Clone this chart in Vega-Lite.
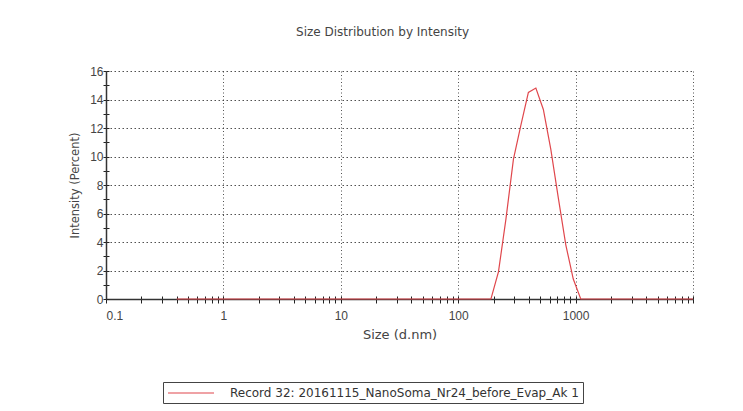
{
  "$schema": "https://vega.github.io/schema/vega-lite/v6.json",
  "autosize": {"type": "none"},
  "width": 587,
  "height": 228,
  "padding": {"left": 106, "top": 71, "right": 50, "bottom": 112},
  "background": "white",
  "title": {
    "text": "Size Distribution by Intensity",
    "font": "DejaVu Sans",
    "fontSize": 12,
    "fontWeight": "normal",
    "color": "#444",
    "anchor": "middle",
    "frame": "bounds",
    "offset": 26
  },
  "data": {
    "values": [
      {"size": 0.4, "intensity": 0}, {"size": 0.4632, "intensity": 0}, {"size": 0.5365, "intensity": 0},
      {"size": 0.6213, "intensity": 0}, {"size": 0.7195, "intensity": 0}, {"size": 0.8332, "intensity": 0},
      {"size": 0.9649, "intensity": 0}, {"size": 1.117, "intensity": 0}, {"size": 1.294, "intensity": 0},
      {"size": 1.499, "intensity": 0}, {"size": 1.736, "intensity": 0}, {"size": 2.01, "intensity": 0},
      {"size": 2.328, "intensity": 0}, {"size": 2.696, "intensity": 0}, {"size": 3.122, "intensity": 0},
      {"size": 3.615, "intensity": 0}, {"size": 4.187, "intensity": 0}, {"size": 4.849, "intensity": 0},
      {"size": 5.615, "intensity": 0}, {"size": 6.503, "intensity": 0}, {"size": 7.531, "intensity": 0},
      {"size": 8.721, "intensity": 0}, {"size": 10.1, "intensity": 0}, {"size": 11.7, "intensity": 0},
      {"size": 13.54, "intensity": 0}, {"size": 15.69, "intensity": 0}, {"size": 18.17, "intensity": 0},
      {"size": 21.04, "intensity": 0}, {"size": 24.36, "intensity": 0}, {"size": 28.21, "intensity": 0},
      {"size": 32.67, "intensity": 0}, {"size": 37.84, "intensity": 0}, {"size": 43.82, "intensity": 0},
      {"size": 50.75, "intensity": 0}, {"size": 58.77, "intensity": 0}, {"size": 68.06, "intensity": 0},
      {"size": 78.82, "intensity": 0}, {"size": 91.28, "intensity": 0}, {"size": 105.7, "intensity": 0},
      {"size": 122.4, "intensity": 0}, {"size": 141.8, "intensity": 0}, {"size": 164.2, "intensity": 0},
      {"size": 190.1, "intensity": 0}, {"size": 220.2, "intensity": 1.9}, {"size": 255, "intensity": 5.6},
      {"size": 295.3, "intensity": 9.8}, {"size": 342, "intensity": 12.2}, {"size": 396.1, "intensity": 14.5},
      {"size": 458.7, "intensity": 14.8}, {"size": 531.2, "intensity": 13.3}, {"size": 615.1, "intensity": 10.5},
      {"size": 712.4, "intensity": 7.1}, {"size": 825, "intensity": 3.8}, {"size": 955.4, "intensity": 1.4},
      {"size": 1106, "intensity": 0}, {"size": 1281, "intensity": 0}, {"size": 1484, "intensity": 0},
      {"size": 1718, "intensity": 0}, {"size": 1990, "intensity": 0}, {"size": 2305, "intensity": 0},
      {"size": 2669, "intensity": 0}, {"size": 3091, "intensity": 0}, {"size": 3580, "intensity": 0},
      {"size": 4145, "intensity": 0}, {"size": 4801, "intensity": 0}, {"size": 5560, "intensity": 0},
      {"size": 6439, "intensity": 0}, {"size": 7456, "intensity": 0}, {"size": 8635, "intensity": 0},
      {"size": 10000, "intensity": 0}
    ]
  },
  "transform": [
    {"calculate": "'Record 32: 20161115_NanoSoma_Nr24_before_Evap_Ak 1'", "as": "record"}
  ],
  "layer": [
    {
      "mark": {"type": "line", "opacity": 0},
      "encoding": {
        "x": {
          "field": "size",
          "type": "quantitative",
          "scale": {"type": "log", "domain": [0.1, 10000], "nice": false},
          "axis": {
            "orient": "bottom",
            "title": null,
            "labels": false,
            "domain": false,
            "grid": false,
            "values": [0.1, 0.2, 0.3, 0.4, 0.5, 0.6, 0.7, 0.8, 0.9,
                       1, 2, 3, 4, 5, 6, 7, 8, 9,
                       10, 20, 30, 40, 50, 60, 70, 80, 90,
                       100, 200, 300, 400, 500, 600, 700, 800, 900,
                       1000, 2000, 3000, 4000, 5000, 6000, 7000, 8000, 9000, 10000],
            "tickSize": -3,
            "tickColor": "#222"
          }
        },
        "y": {
          "field": "intensity",
          "type": "quantitative",
          "scale": {"domain": [0, 16], "nice": false},
          "axis": {
            "orient": "left",
            "title": null,
            "labels": false,
            "domain": false,
            "grid": false,
            "values": [0, 1, 2, 3, 4, 5, 6, 7, 8, 9, 10, 11, 12, 13, 14, 15, 16],
            "tickSize": -3,
            "tickColor": "#222"
          }
        }
      }
    },
    {
      "mark": {"type": "line", "strokeWidth": 1.2, "clip": false},
      "encoding": {
        "x": {
          "field": "size",
          "type": "quantitative",
          "scale": {"type": "log", "domain": [0.1, 10000], "nice": false},
          "axis": {
            "orient": "bottom",
            "title": "Size (d.nm)",
            "values": [0.1, 0.2, 0.3, 0.4, 0.5, 0.6, 0.7, 0.8, 0.9,
                       1, 2, 3, 4, 5, 6, 7, 8, 9,
                       10, 20, 30, 40, 50, 60, 70, 80, 90,
                       100, 200, 300, 400, 500, 600, 700, 800, 900,
                       1000, 2000, 3000, 4000, 5000, 6000, 7000, 8000, 9000, 10000],
            "format": "~g",
            "labelExpr": "indexof([0.1, 1, 10, 100, 1000], datum.value) >= 0 ? datum.label : ''",
            "labelOverlap": false,
            "labelFont": "Liberation Sans",
            "labelFontSize": 12,
            "labelColor": "#444",
            "labelPadding": 7,
            "tickSize": 4,
            "tickColor": "#222",
            "domainColor": "#333",
            "domainWidth": 1.5,
            "grid": true,
            "gridColor": "#333",
            "gridDash": [1, 2.5],
            "gridWidth": 1,
            "gridOpacity": {"condition": {"test": "indexof([1, 10, 100, 1000, 10000], datum.value) >= 0", "value": 0.85}, "value": 0},
            "titleFont": "DejaVu Sans",
            "titleFontSize": 13,
            "titleFontWeight": "normal",
            "titleColor": "#444",
            "titlePadding": 7
          }
        },
        "y": {
          "field": "intensity",
          "type": "quantitative",
          "scale": {"domain": [0, 16], "nice": false},
          "axis": {
            "orient": "left",
            "title": "Intensity (Percent)",
            "values": [0, 1, 2, 3, 4, 5, 6, 7, 8, 9, 10, 11, 12, 13, 14, 15, 16],
            "labelExpr": "datum.value % 2 === 0 ? datum.label : ''",
            "labelOverlap": false,
            "labelFont": "Liberation Sans",
            "labelFontSize": 12,
            "labelColor": "#444",
            "labelPadding": 0,
            "tickSize": 3,
            "tickColor": "#222",
            "domainColor": "#333",
            "domainWidth": 1.5,
            "grid": true,
            "gridColor": "#333",
            "gridDash": [1.5, 2.5],
            "gridWidth": 1,
            "gridOpacity": {"condition": {"test": "datum.value % 2 === 0 && datum.value > 0", "value": 0.85}, "value": 0},
            "titleFont": "DejaVu Sans",
            "titleFontSize": 11.5,
            "titleFontWeight": "normal",
            "titleColor": "#444",
            "titlePadding": 9
          }
        },
        "color": {
          "field": "record",
          "type": "nominal",
          "scale": {"range": ["#e0474c"]},
          "legend": {
            "title": null,
            "orient": "none",
            "legendX": 57,
            "legendY": 311,
            "symbolType": "M-1,0H6.67",
            "symbolSize": 144,
            "symbolStrokeWidth": 1.2,
            "labelFont": "DejaVu Sans",
            "labelFontSize": 12,
            "labelColor": "#333",
            "labelOffset": 49,
            "labelLimit": 500,
            "padding": 4,
            "strokeColor": "#444"
          }
        }
      }
    }
  ],
  "resolve": {"axis": {"x": "independent", "y": "independent"}},
  "config": {
    "view": {"stroke": null}
  }
}
